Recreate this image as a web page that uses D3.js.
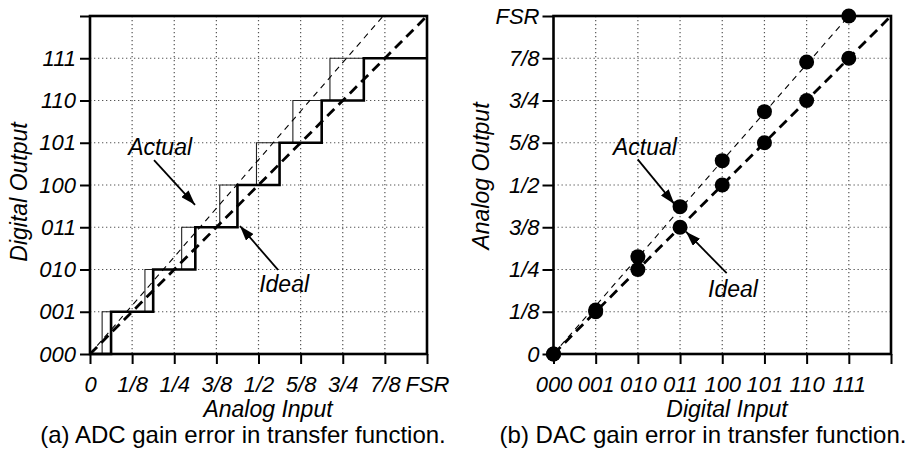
<!DOCTYPE html>
<html>
<head>
<meta charset="utf-8">
<style>
	body{margin:0;background:#fff;}
	text{font-family:"Liberation Sans",Arial,Helvetica,sans-serif;fill:#000;}
</style>
</head>
<body>
<script src="https://d3js.org/d3.v7.min.js" charset="utf-8"></script>
<script>
	// tick labels
	var codes=["000","001","010","011","100","101","110","111"];
	var fractions=["0","1/8","1/4","3/8","1/2","5/8","3/4","7/8","FSR"];

	// ADC: input (fraction of FSR) where the output steps up to code i+1
	var adcIdealEdges=[0.0625,0.1875,0.3125,0.4375,0.5625,0.6875,0.8125];
	var adcActualEdges=[0.036,0.163,0.272,0.385,0.494,0.602,0.712];
	var adcActualEnd=0.87; // input where the actual gain line reaches code 8

	// DAC: analog output (fraction of FSR) for each code
	var dacIdeal=[0,0.125,0.25,0.375,0.5,0.625,0.75,0.875];
	var dacActual=[0,0.13,0.288,0.436,0.572,0.717,0.864,1];

	// annotations, in data units of each chart
	var adcNotes=[
		{label:"Actual",tx:0.208,ty:4.71,x1:0.19,y1:4.59,x2:0.3116,y2:3.53},
		{label:"Ideal",tx:0.576,ty:1.47,x1:0.558,y1:1.99,x2:0.445,y2:3.03}
	];
	var dacNotes=[
		{label:"Actual",tx:2.169,ty:0.589,x1:1.996,y1:0.576,x2:2.863,y2:0.444},
		{label:"Ideal",tx:4.254,ty:0.169,x1:4.105,y1:0.239,x2:3.14,y2:0.362}
	];

	var width=906;
	var height=451;
	var svg=d3.select("body").append("svg")
			.attr("width",width)
			.attr("height",height);

	svg.append("defs").append("marker")
		.attr("id","arrow")
		.attr("markerUnits","userSpaceOnUse")
		.attr("markerWidth",15)
		.attr("markerHeight",10)
		.attr("refX",15)
		.attr("refY",5)
		.attr("orient","auto")
		.append("path")
		.attr("d","M0,0L15,5L0,10z")
		.attr("fill","#000");

	var plotTop=16, plotBottom=354;

	// common frame: grid, box, ticks
	function frame(x,y,xt,yt,xfmt,yfmt,ytick,ypad){
		var g=svg.append("g");
		g.selectAll(".vgrid").data(xt.slice(1,-1)).enter().append("line")
			.attr("x1",function(d){return x(d);})
			.attr("x2",function(d){return x(d);})
			.attr("y1",plotTop).attr("y2",plotBottom)
			.attr("stroke","#555").attr("stroke-width",1.2)
			.attr("stroke-dasharray","1.3,2.7");
		g.selectAll(".hgrid").data(yt.slice(1,-1)).enter().append("line")
			.attr("y1",function(d){return y(d);})
			.attr("y2",function(d){return y(d);})
			.attr("x1",x.range()[0]).attr("x2",x.range()[1])
			.attr("stroke","#555").attr("stroke-width",1.2)
			.attr("stroke-dasharray","1.3,2.7");

		var xa=g.append("g")
			.attr("transform","translate(0,"+plotBottom+")")
			.call(d3.axisBottom(x).tickValues(xt).tickFormat(xfmt).tickSize(10).tickPadding(12));
		var ya=g.append("g")
			.attr("transform","translate("+x.range()[0]+",0)")
			.call(d3.axisLeft(y).tickValues(yt).tickFormat(yfmt).tickSize(ytick).tickPadding(ypad));
		[xa,ya].forEach(function(a){
			a.select(".domain").remove();
			a.selectAll("line").attr("stroke","#000").attr("stroke-width",2);
			a.selectAll("text")
				.attr("fill","#000")
				.style("font-size","22px")
				.style("font-style","italic");
		});

		g.append("rect")
			.attr("x",x.range()[0]).attr("y",plotTop)
			.attr("width",x.range()[1]-x.range()[0])
			.attr("height",plotBottom-plotTop)
			.attr("fill","none").attr("stroke","#000").attr("stroke-width",2.6);
		return g;
	}

	function notes(list,x,y){
		list.forEach(function(n){
			svg.append("line")
				.attr("x1",x(n.x1)).attr("y1",y(n.y1))
				.attr("x2",x(n.x2)).attr("y2",y(n.y2))
				.attr("stroke","#000").attr("stroke-width",1.8)
				.attr("marker-end","url(#arrow)");
			svg.append("text")
				.attr("x",x(n.tx)).attr("y",y(n.ty))
				.attr("text-anchor","middle")
				.style("font-size","23px")
				.style("font-style","italic")
				.text(n.label);
		});
	}

	function title(text,px,py,rot,italic,size){
		svg.append("text")
			.attr("transform","translate("+px+","+py+")"+(rot?" rotate(-90)":""))
			.attr("text-anchor","middle")
			.style("font-size",(size||23)+"px")
			.style("font-style",italic?"italic":"normal")
			.text(text);
	}

	//----- (a) ADC -----
	var ax=d3.scaleLinear().domain([0,1]).range([90,427]);
	var ay=d3.scaleLinear().domain([0,8]).range([plotBottom,plotTop]);
	frame(ax,ay,d3.range(9).map(function(i){return i/8;}),d3.range(9),
		function(d,i){return fractions[i];},
		function(d){return codes[d]||"";},10,4);

	function stairs(edges){
		var pts=[[0,0]];
		edges.forEach(function(e,i){
			pts.push([e,i]);
			pts.push([e,i+1]);
		});
		pts.push([1,edges.length]);
		return pts;
	}
	var aline=d3.line()
		.x(function(d){return ax(d[0]);})
		.y(function(d){return ay(d[1]);});

	svg.append("path").datum(stairs(adcActualEdges))
		.attr("d",aline).attr("fill","none")
		.attr("stroke","#222").attr("stroke-width",1.1);
	svg.append("path").datum(stairs(adcIdealEdges))
		.attr("d",aline).attr("fill","none")
		.attr("stroke","#000").attr("stroke-width",2.6);
	svg.append("path").datum([[0,0],[adcActualEnd,8]])
		.attr("d",aline).attr("fill","none")
		.attr("stroke","#000").attr("stroke-width",1.1)
		.attr("stroke-dasharray","6,5");
	svg.append("path").datum([[0,0],[1,8]])
		.attr("d",aline).attr("fill","none")
		.attr("stroke","#000").attr("stroke-width",2.8)
		.attr("stroke-dasharray","10,6");
	notes(adcNotes,ax,ay);

	title("Digital Output",27,192,true,true);
	title("Analog Input",268,417,false,true);
	title("(a) ADC gain error in transfer function.",243,443,false,false,24);

	//----- (b) DAC -----
	var bx=d3.scaleLinear().domain([0,8]).range([553.5,891]);
	var by=d3.scaleLinear().domain([0,1]).range([plotBottom,plotTop]);
	frame(bx,by,d3.range(9),d3.range(9).map(function(i){return i/8;}),
		function(d){return codes[d]||"";},
		function(d,i){return fractions[i];},11,3);

	var bline=d3.line()
		.x(function(d){return bx(d[0]);})
		.y(function(d){return by(d[1]);});
	svg.append("path").datum([[0,0],[7,1]])
		.attr("d",bline).attr("fill","none")
		.attr("stroke","#000").attr("stroke-width",1.1)
		.attr("stroke-dasharray","6,5");
	svg.append("path").datum([[0,0],[8,1]])
		.attr("d",bline).attr("fill","none")
		.attr("stroke","#000").attr("stroke-width",2.8)
		.attr("stroke-dasharray","10,6");

	svg.selectAll(".ideal").data(dacIdeal).enter().append("circle")
		.attr("cx",function(d,i){return bx(i);})
		.attr("cy",function(d){return by(d);})
		.attr("r",7.5).attr("fill","#000");
	svg.selectAll(".actual").data(dacActual).enter().append("circle")
		.attr("cx",function(d,i){return bx(i);})
		.attr("cy",function(d){return by(d);})
		.attr("r",7.5).attr("fill","#000");
	notes(dacNotes,bx,by);

	title("Analog Output",489,176,true,true);
	title("Digital Input",727,417,false,true);
	title("(b) DAC gain error in transfer function.",703,443,false,false,24);
</script>
</body>
</html>
